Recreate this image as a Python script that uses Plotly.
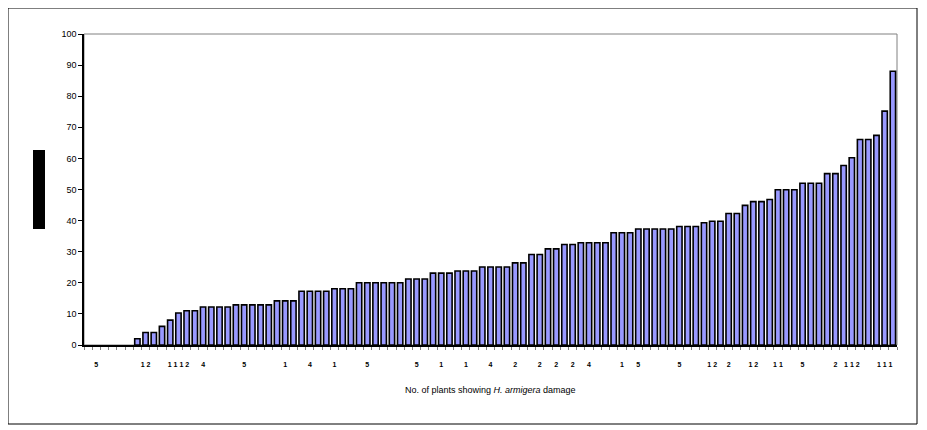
import plotly.graph_objects as go

# Bar values (sorted, % damage), one per plant category
values = [0, 0, 0, 0, 0, 0,
          2, 4, 4, 6, 8, 10.3, 11, 11,
          12.2, 12.2, 12.2, 12.2,
          12.9, 12.9, 12.9, 12.9, 12.9,
          14.2, 14.2, 14.2,
          17.3, 17.3, 17.3, 17.3,
          18.1, 18.1, 18.1,
          20, 20, 20, 20, 20, 20,
          21.2, 21.2, 21.2,
          23.1, 23.1, 23.1,
          23.8, 23.8, 23.8,
          25.1, 25.1, 25.1, 25.1,
          26.4, 26.4,
          29.1, 29.1,
          30.9, 30.9,
          32.3, 32.3,
          32.9, 32.9, 32.9, 32.9,
          36.1, 36.1, 36.1,
          37.3, 37.3, 37.3, 37.3, 37.3,
          38.1, 38.1, 38.1,
          39.3, 39.8, 39.8,
          42.3, 42.3,
          44.9, 46.1, 46.1, 46.8,
          49.9, 49.9, 49.9,
          52, 52, 52,
          55.1, 55.1,
          57.7, 60.2,
          66.1, 66.1, 67.4,
          75.2, 88]
categories = list(range(len(values)))

# Category tick labels (sparse, as in the original)
label_positions = [1, 7, 11, 14, 19, 24, 27, 30, 34, 40, 43, 46, 49,
                   52, 55, 57, 59, 61, 65, 67, 72, 76, 78, 81, 84, 87,
                   91, 93, 97]
label_texts = ["5", "1 2", "1 1 1 2", "4", "5", "1", "4", "1", "5", "5", "1", "1", "4",
               "2", "2", "2", "2", "4", "1", "5", "5", "1 2", "2", "1 2", "1 1", "5",
               "2", "1 1 2", "1 1 1"]

y_ticks = list(range(0, 101, 10))

OFF = 8  # page body offset
W, H = 927 - OFF, 430 - OFF
# plot area in screen pixels: x 84..897, y 34..345
L = 84 - OFF
T = 34 - OFF
R = W - (897 - OFF)
B = H - (345 - OFF)
pw, ph = W - L - R, H - T - B


def px(x):
    return (x - OFF - L) / pw


def py(y):
    return 1 - (y - OFF - T) / ph


line_widths = [0 if v == 0 else 1.6 for v in values]

fig = go.Figure()
fig.add_trace(go.Bar(
    x=categories, y=values,
    marker=dict(color="#9999FF", line=dict(color="black", width=line_widths)),
    hoverinfo="y",
))

fig.update_layout(
    width=W, height=H,
    margin=dict(l=L, r=R, t=T, b=B),
    paper_bgcolor="white", plot_bgcolor="white",
    showlegend=False,
    bargap=0.35,
    font=dict(family="Liberation Sans, Arial, sans-serif", color="black", size=9),
    xaxis=dict(
        range=[-0.5, len(values) - 0.5],
        showline=True, linecolor="black", linewidth=1.5,
        showgrid=False, zeroline=False,
        tickmode="array", tickvals=label_positions, ticktext=label_texts,
        ticks="", tickfont=dict(size=7, family="Liberation Sans, Arial", color="black",
                                weight="bold"),
        ticklabelstandoff=12,
        minor=dict(tickmode="linear", tick0=-0.5, dtick=1, ticks="outside",
                   ticklen=3, tickcolor="#808080", tickwidth=1, showgrid=False),
    ),
    yaxis=dict(
        range=[0, 100], tickmode="array", tickvals=y_ticks,
        showline=True, linecolor="black", linewidth=1.5,
        ticks="outside", ticklen=4, tickcolor="black",
        showgrid=False, zeroline=False,
        tickfont=dict(size=9, color="black"),
    ),
    shapes=[
        # plot area border (gray)
        dict(type="rect", xref="paper", yref="paper", x0=0, x1=1, y0=0, y1=1,
             line=dict(color="#808080", width=1), layer="below"),
        # outer chart frame
        dict(type="rect", xref="paper", yref="paper",
             x0=px(8), x1=px(917), y0=py(424), y1=py(8),
             line=dict(color="black", width=1), layer="below"),
        # y-axis title block
        dict(type="rect", xref="paper", yref="paper",
             x0=px(33), x1=px(45), y0=py(229), y1=py(150),
             fillcolor="black", line=dict(width=0)),
    ],
    annotations=[
        dict(text="No. of plants showing <i>H. armigera</i> damage",
             xref="paper", yref="paper", x=px(490), y=py(390),
             xanchor="center", yanchor="middle", showarrow=False,
             font=dict(size=9, color="black")),
    ],
)

fig.write_html("out.html")
